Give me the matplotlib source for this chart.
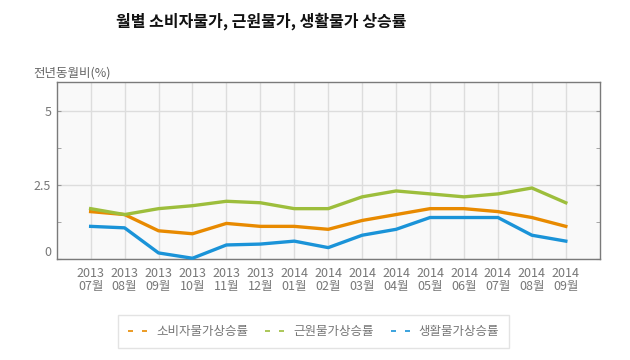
import matplotlib
matplotlib.use("Agg")
import matplotlib.pyplot as plt
from matplotlib.lines import Line2D

plt.rcParams['font.family'] = ['Noto Sans CJK KR', 'DejaVu Sans']

# 월별 데이터 (전년동월비, %)
months = ["2013\n07월", "2013\n08월", "2013\n09월", "2013\n10월", "2013\n11월",
          "2013\n12월", "2014\n01월", "2014\n02월", "2014\n03월", "2014\n04월",
          "2014\n05월", "2014\n06월", "2014\n07월", "2014\n08월", "2014\n09월"]
cpi = [1.6, 1.5, 0.95, 0.85, 1.2, 1.1, 1.1, 1.0, 1.3, 1.5, 1.7, 1.7, 1.6, 1.4, 1.1]
core = [1.7, 1.5, 1.7, 1.8, 1.95, 1.9, 1.7, 1.7, 2.1, 2.3, 2.2, 2.1, 2.2, 2.4, 1.9]
living = [1.1, 1.05, 0.2, 0.02, 0.47, 0.5, 0.6, 0.38, 0.8, 1.0, 1.4, 1.4, 1.4, 0.8, 0.6]
names = ["소비자물가상승률", "근원물가상승률", "생활물가상승률"]
colors = ["#E88A00", "#9DBE3C", "#1A93D8"]

fig = plt.figure(figsize=(6.3, 3.6), dpi=100)
ax = fig.add_axes([0.09, 0.281, 0.862, 0.492])
ax.set_facecolor("#F9F9F9")

x = list(range(len(months)))
for vals, c in zip([cpi, core, living], colors):
    ax.plot(x, vals, color=c, lw=2.4, solid_joinstyle="round", zorder=3, clip_on=False)

ax.set_xlim(-1, len(months))
ax.set_ylim(0, 6)
ax.set_xticks(x)
ax.set_xticklabels(months, fontsize=9, color="#777777", linespacing=1.0)
ax.set_yticks([0, 2.5, 5])
ax.set_yticklabels(["0", "2.5", "5"], fontsize=9, color="#777777")
ax.get_yticklabels()[0].set_va("bottom")
ax.set_yticks([1.25, 3.75], minor=True)
ax.tick_params(axis="x", length=0, pad=6)
ax.tick_params(axis="y", which="both", direction="in", length=3, color="#999999",
               right=True, pad=4)

ax.grid(axis="x", color="#DDDDDD", lw=1)
ax.grid(axis="y", which="major", color="#DDDDDD", lw=1)
for s in ax.spines.values():
    s.set_color("#7A7A7A")
    s.set_linewidth(1)

fig.text(0.415, 0.94, "월별 소비자물가, 근원물가, 생활물가 상승률",
         ha="center", va="center", fontsize=11.5, fontweight="bold", color="#111111")
fig.text(0.053, 0.797, "전년동월비(%)", ha="left", va="center", fontsize=9, color="#666666")

handles = [Line2D([0], [0], color=c, lw=1.2, linestyle=(0, (3, 5.4))) for c in colors]
leg = fig.legend(handles, names, loc="center", bbox_to_anchor=(0.498, 0.078), ncol=3,
                 fontsize=9, frameon=True, fancybox=False, handlelength=1.5,
                 handletextpad=0.7, columnspacing=1.4, borderpad=0.8,
                 labelcolor="#777777")
leg.get_frame().set_edgecolor("#DDDDDD")
leg.get_frame().set_linewidth(1)

fig.savefig("out.png", dpi=100)
